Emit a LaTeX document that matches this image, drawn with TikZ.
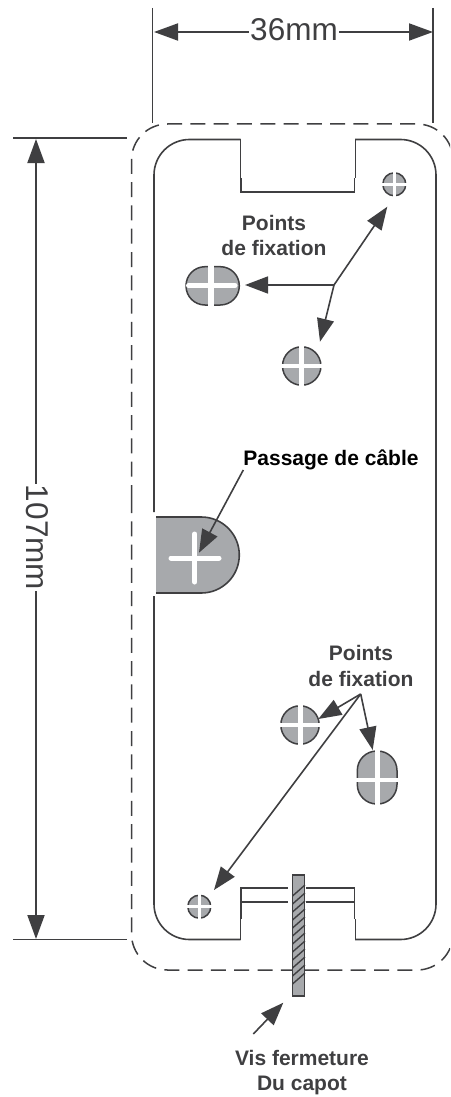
\documentclass[tikz,border=0pt]{standalone}
\usepackage{fontspec}
\setmainfont{Liberation Sans}
\usetikzlibrary{arrows.meta}
\definecolor{ink}{HTML}{3F3F41}
\definecolor{hole}{HTML}{A7A9AC}
\tikzset{
  x=1pt,y=-1pt,
  outline/.style={draw=ink,line width=1.6pt},
  thin outline/.style={draw=ink,line width=1pt},
  dimline/.style={draw=ink,line width=1.9pt},
  casing/.style={draw=ink,line width=1.5pt,dash pattern=on 15pt off 8.3pt},
  holeshape/.style={draw=ink,line width=1.5pt,fill=hole},
  cut/.style={draw=white,line width=#1},
  cut/.default=4pt,
  pointer/.style={draw=ink,line width=1.6pt,-{Triangle[length=23pt,width=17pt]}},
  dimarrow/.style={draw=ink,line width=1.9pt,{Triangle[length=24pt,width=17pt]}-{Triangle[length=24pt,width=17pt]}},
  dimtext/.style={text=ink,font=\fontsize{31.5}{31.5}\selectfont,inner sep=0pt,fill=white,inner xsep=1pt},
  label/.style={text=ink,font=\bfseries\fontsize{21}{21}\selectfont,inner sep=0pt,anchor=base},
}
\begin{document}
\begin{tikzpicture}
\useasboundingbox (0,0) rectangle (450,1097);
\clip (0,0) rectangle (450,1097);
% casing
\draw[casing,rounded corners=36pt] (131.5,500) -- (131.5,124) -- (453,124) -- (453,970) -- (131.5,970) -- (131.5,500);
% body outline
\draw[outline,rounded corners=35.5pt] (154,512) -- (154,139.5) -- (240.7,139.5);
\draw[outline,rounded corners=35.5pt] (355,139.5) -- (436,139.5) -- (436,939.5) -- (355,939.5);
\draw[outline,rounded corners=35.5pt] (240.7,939.5) -- (154,939.5) -- (154,596);
% top notch
\draw[thin outline] (240.7,139.5) -- (240.7,178) (355,139.5) -- (355,178);
\draw[outline] (241,178) -- (241,192) -- (354.5,192) -- (354.5,178);
% bottom notch
\draw[thin outline] (240.7,939.5) -- (240.7,919) (355,939.5) -- (355,919);
\draw[outline] (241,919) -- (241,901.7) -- (288,901.7) (241,901.7) -- (241,888) -- (288,888);
\draw[outline] (354.5,919) -- (354.5,901.7) -- (306,901.7) (354.5,901.7) -- (354.5,888) -- (306,888);
% screw
\node[draw=ink,line width=1.3pt,fill=hole,minimum width=12pt,minimum height=121pt,inner sep=0pt] (screw) at (298.8,935.5) {};
\foreach \y in {896,904,912,920,928,936,944,952,960,968,976,984}
  \draw[ink,line width=1.4pt] (292.5,\y) -- (305,\y-11);
% cable passage
\path[fill=hole,rounded corners=38pt] (156,517) -- (239.3,517) -- (239.3,593) -- (156,593) -- cycle;
\fill[hole] (156,517) rectangle (190,593);
\draw[outline,rounded corners=38pt] (156,517) -- (239.3,517) -- (239.3,593) -- (156,593);
\draw[cut=5pt,line cap=round] (171,558) -- (219,558) (194.7,534) -- (194.7,582);
% holes
\draw[holeshape] (394.3,184.3) circle[radius=11.5];
\draw[cut=3pt] (382,184.3) -- (407,184.3) (394.3,172) -- (394.3,197);
\draw[holeshape,rounded corners=19pt] (186,266.7) rectangle (239.3,305);
\draw[cut=5.5pt] (211,265) -- (211,307);
\draw[cut=5pt,line cap=round] (188.5,285.5) -- (235,285.5);
\draw[holeshape] (301.7,366) circle[radius=19.2];
\draw[cut=5pt] (301.7,345) -- (301.7,387);
\draw[cut=3.5pt] (281,366) -- (322,366);
\draw[holeshape] (300,725) circle[radius=19.2];
\draw[cut=5pt] (300,704) -- (300,746);
\draw[cut=3.5pt] (279,725) -- (321,725);
\draw[holeshape,rounded corners=19.5pt] (357.3,751) rectangle (397,804);
\draw[cut=5pt] (377,749) -- (377,806);
\draw[cut=3.5pt] (356,780) -- (398,780);
\draw[holeshape] (199.3,906.7) circle[radius=11.5];
\draw[cut=3pt] (187,906.7) -- (212,906.7) (199.3,894) -- (199.3,919);
% dimensions
\draw[dimline] (152.5,8) -- (152.5,123) (433,8) -- (433,123);
\coordinate (wl) at (154,32);
\coordinate (wr) at (433,32);
\draw[dimarrow] (wl) -- (wr);
\node[dimtext] (wtext) at (294,30) {36mm};
\draw[dimline] (13,138) -- (127,138) (13,939.5) -- (127,939.5);
\coordinate (ht) at (36,139);
\coordinate (hb) at (36,939);
\draw[dimarrow] (ht) -- (hb);
\node[dimtext,rotate=-90] (htext) at (37.5,537.5) {107mm};
% labels
\node[label] (fixA1) at (274,230) {Points};
\node[label] (fixA2) at (274,255.7) {de fixation};
\node[label] (fixB1) at (361,660.7) {Points};
\node[label] (fixB2) at (361,686.7) {de fixation};
\node[label,text=black] (passage) at (331,465) {Passage de câble};
\node[label] (vis1) at (302,1065.7) {Vis fermeture};
\node[label] (vis2) at (302,1090.7) {Du capot};
% pointers
\coordinate (ja) at (334,285);
\coordinate (ja1) at (387.3,206.7);
\coordinate (ja2) at (245,285);
\coordinate (ja3) at (320,341.7);
\draw[pointer] (ja) -- (ja1);
\draw[pointer] (ja) -- (ja2);
\draw[pointer] (ja) -- (ja3);
\coordinate (jb) at (360.7,694);
\coordinate (jb1) at (318.3,719);
\coordinate (jb2) at (372.7,750);
\coordinate (jb3) at (214,890);
\draw[pointer] (jb) -- (jb1);
\draw[pointer] (jb) -- (jb2);
\draw[pointer] (jb) -- (jb3);
\coordinate (pa) at (243.3,470);
\coordinate (pb) at (199,552.7);
\draw[pointer] (pa) -- (pb);
\coordinate (va) at (253.3,1034);
\coordinate (vb) at (283.3,1002.7);
\draw[pointer] (va) -- (vb);
\end{tikzpicture}
\end{document}
